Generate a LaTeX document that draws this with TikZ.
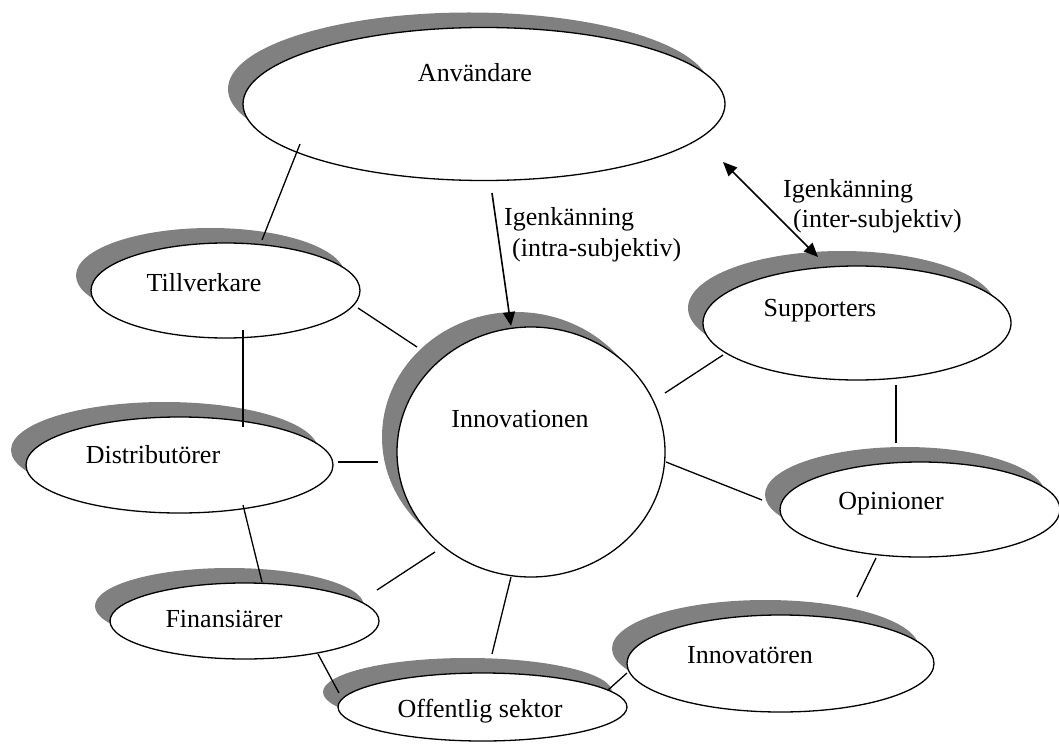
\documentclass[tikz,border=0pt]{standalone}
\usepackage{fontspec}
\setmainfont{Liberation Serif}
\usetikzlibrary{shapes.geometric,shadows,arrows.meta}
\definecolor{shadowgray}{HTML}{808080}
\begin{document}
\begin{tikzpicture}[x=1pt,y=-1pt,
  blob/.style={ellipse, draw=black, line width=1.3pt, fill=white, inner sep=0pt, outer sep=0pt,
    general shadow={fill=shadowgray, shadow xshift=-15pt, shadow yshift=15pt}},
  lbl/.style={font=\fontsize{26}{30}\selectfont, anchor=base, inner sep=0pt},
  note/.style={font=\fontsize{26}{30}\selectfont, anchor=base west, inner sep=0pt},
  conn/.style={line width=1.3pt},
  arr/.style={line width=1.6pt, >={Triangle[length=14pt,width=12pt]}},
]
\useasboundingbox (0,0) rectangle (1059,746);

% ellipses (with shadows)
\node[blob, minimum width=482pt, minimum height=153pt] (anv) at (484,104) {};
\node[blob, minimum width=269pt, minimum height=95pt] (til) at (225.5,290.5) {};
\node[blob, minimum width=307pt, minimum height=96pt] (dis) at (179.5,465) {};
\node[blob, minimum width=269pt, minimum height=76pt] (fin) at (244.5,621) {};
\node[blob, minimum width=289pt, minimum height=68pt] (off) at (482.5,707) {};
\node[blob, minimum width=268pt, minimum height=250pt] (inn) at (531,452) {};
\node[blob, minimum width=308pt, minimum height=114pt] (sup) at (857,323) {};
\node[blob, minimum width=280pt, minimum height=95pt] (opi) at (920,509.5) {};
\node[blob, minimum width=307pt, minimum height=97pt] (ino) at (780.5,663.5) {};

% texts
\node[lbl] (tanv) at (475,82) {Användare};
\node[lbl] (ttil) at (204,291) {Tillverkare};
\node[lbl] (tdis) at (153,463) {Distributörer};
\node[lbl] (tfin) at (224,627) {Finansiärer};
\node[lbl] (toff) at (480,717) {Offentlig sektor};
\node[lbl] (tinn) at (520,427) {Innovationen};
\node[lbl] (tsup) at (820,316) {Supporters};
\node[lbl] (topi) at (891,509) {Opinioner};
\node[lbl] (tino) at (750,663) {Innovatören};

\node[note] (l1a) at (504,225) {Igenkänning};
\node[note] (l1b) at (512,256) {(intra-subjektiv)};
\node[note] (l2a) at (783,197) {Igenkänning};
\node[note] (l2b) at (793,227) {(inter-subjektiv)};

% connectors
\draw[conn] ([shift={(-184,40)}]anv.center) -- ([shift={(36.5,-50.5)}]til.center);
\draw[conn] ([shift={(132.5,17.5)}]til.center) -- ([shift={(-114,-105)}]inn.center);
\draw[conn] ([shift={(17.5,39.5)}]til.center) -- ([shift={(63.5,-38)}]dis.center);
\draw[conn] ([shift={(158.5,-3)}]dis.center) -- ([shift={(-153,10)}]inn.center);
\draw[conn] ([shift={(63.5,40)}]dis.center) -- ([shift={(17.5,-39)}]fin.center);
\draw[conn] ([shift={(132.5,-31)}]fin.center) -- ([shift={(-96,100)}]inn.center);
\draw[conn] ([shift={(73.5,33)}]fin.center) -- ([shift={(-143.5,-14)}]off.center);
\draw[conn] ([shift={(-20,125)}]inn.center) -- ([shift={(9.5,-53)}]off.center);
\draw[conn] ([shift={(125.5,-17)}]off.center) -- ([shift={(-153.5,9.5)}]ino.center);
\draw[conn] ([shift={(135,10)}]inn.center) -- ([shift={(-158,-9.5)}]opi.center);
\draw[conn] ([shift={(134,-59)}]inn.center) -- ([shift={(-134,32)}]sup.center);
\draw[conn] ([shift={(39,62)}]sup.center) -- ([shift={(-24,-66.5)}]opi.center);
\draw[conn] ([shift={(-44,48.5)}]opi.center) -- ([shift={(76.5,-66.5)}]ino.center);

% arrows
\draw[arr, ->] ([shift={(8,89)}]anv.center) -- ([shift={(-20,-126)}]inn.center);
\draw[arr, <->] ([shift={(239,58)}]anv.center) -- ([shift={(-39,-66)}]sup.center);
\end{tikzpicture}
\end{document}
